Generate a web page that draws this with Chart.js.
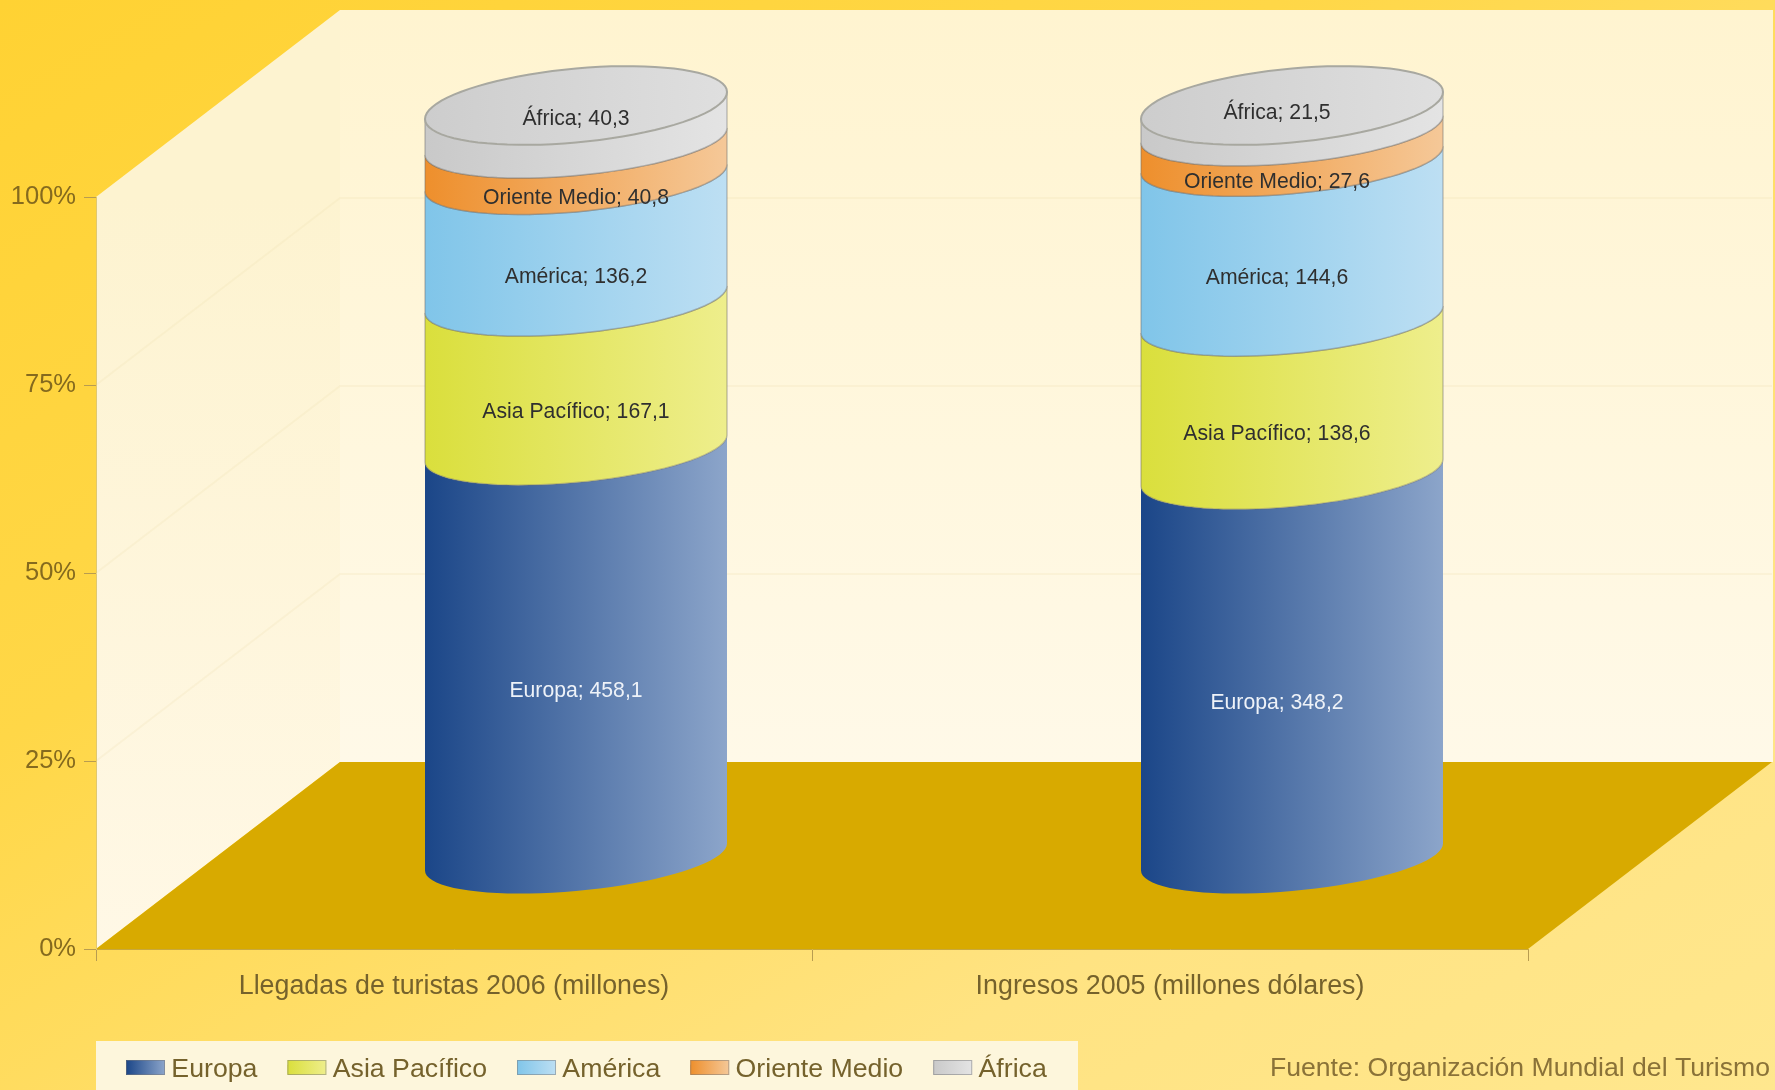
<!DOCTYPE html>
<html>
<head>
<meta charset="utf-8">
<title>Turismo</title>
<script src="https://cdn.jsdelivr.net/npm/chart.js@4/dist/chart.umd.min.js"></script>
<style>
  html, body { margin: 0; padding: 0; }
  body { width: 1775px; height: 1090px; overflow: hidden; background: linear-gradient(150deg, #ffd233 0%, #ffd747 35%, #ffe382 75%, #ffe78e 100%); }
  canvas { display: block; }
</style>
</head>
<body>
<canvas id="chart" width="1775" height="1090"></canvas>
<script>
const categories = ["Llegadas de turistas 2006 (millones)", "Ingresos 2005 (millones dólares)"];
const seriesNames = ["Europa", "Asia Pacífico", "América", "Oriente Medio", "África"];
const europa = [458.1, 348.2];
const asiaPacifico = [167.1, 138.6];
const america = [136.2, 144.6];
const orienteMedio = [40.8, 27.6];
const africa = [40.3, 21.5];
const seriesValues = [europa, asiaPacifico, america, orienteMedio, africa];
const legendColors = ["#2f5a9a", "#dfe24f", "#92cdec", "#f0a050", "#d0d0d0"];

const totals = categories.map((c, i) => seriesValues.reduce((sum, s) => sum + s[i], 0));

// left and right colour of each cylinder band
const bandColors = [
    ["#1b4688", "#8ca5ca"],
    ["#dadf3c", "#eeee8c"],
    ["#80c5e9", "#bddff3"],
    ["#ee8f2c", "#f5c898"],
    ["#c9c9c9", "#e4e4e4"]
];

const fontFamily = "'Liberation Sans', Arial, sans-serif";
const depthX = 244, depthY = -187;
const cylinderDrop = 2;
const radiusX = 151, tiltY = 13.5, radiusY = 34, capRadiusY = 37;
const labelShift = [0, -15];

function frontCurve(ctx, cx, cy, reverse) {
    for (let k = 0; k <= 40; k++) {
        const t = reverse ? Math.PI * k / 40 : Math.PI - Math.PI * k / 40;
        ctx.lineTo(cx + radiusX * Math.cos(t), cy - tiltY * Math.cos(t) + radiusY * Math.sin(t));
    }
}

function horizontalGradient(ctx, x0, x1, colors) {
    const g = ctx.createLinearGradient(x0, 0, x1, 0);
    g.addColorStop(0, colors[0]);
    g.addColorStop(1, colors[1]);
    return g;
}

const scenePlugin = {
    id: "scene",
    afterLayout(chart) {
        const legend = chart.legend;
        legend.left = 96;
        legend.right = 1078;
        legend.top = 1026;
        legend.bottom = 1090;
        legend.adjustHitBoxes();
    },
    beforeDraw(chart) {
        const ctx = chart.ctx;
        const a = chart.chartArea;
        const y = chart.scales.y;
        ctx.save();

        // left wall
        let g = ctx.createLinearGradient(0, a.top, 0, a.bottom);
        g.addColorStop(0, "#fdf3d0");
        g.addColorStop(1, "#fff8e6");
        ctx.fillStyle = g;
        ctx.beginPath();
        ctx.moveTo(a.left, a.top);
        ctx.lineTo(a.left + depthX, a.top + depthY);
        ctx.lineTo(a.left + depthX, a.bottom + depthY);
        ctx.lineTo(a.left, a.bottom);
        ctx.closePath();
        ctx.fill();

        // back wall
        g = ctx.createLinearGradient(0, a.top + depthY, 0, a.bottom + depthY);
        g.addColorStop(0, "#fff4d0");
        g.addColorStop(1, "#fff9e8");
        ctx.fillStyle = g;
        ctx.fillRect(a.left + depthX, a.top + depthY, a.right - a.left + 1, a.bottom - a.top);

        // floor
        ctx.fillStyle = "#d8aa00";
        ctx.beginPath();
        ctx.moveTo(a.left, a.bottom);
        ctx.lineTo(a.left + depthX, a.bottom + depthY);
        ctx.lineTo(a.right + depthX, a.bottom + depthY);
        ctx.lineTo(a.right, a.bottom);
        ctx.closePath();
        ctx.fill();

        // faint grid on the walls
        ctx.strokeStyle = "rgba(235,220,170,0.2)";
        ctx.lineWidth = 2;
        y.ticks.forEach(t => {
            if (t.value === 0 || t.value === 100) return;
            const py = y.getPixelForValue(t.value);
            ctx.beginPath();
            ctx.moveTo(a.left, py);
            ctx.lineTo(a.left + depthX, py + depthY);
            ctx.lineTo(a.right + depthX, py + depthY);
            ctx.stroke();
        });

        // legend panel
        ctx.fillStyle = "#fdf6dc";
        ctx.fillRect(96, 1041, 982, 49);
        ctx.restore();
    },
    beforeDatasetDraw() {
        return false; // cylinders are painted below from the bar elements
    },
    afterDatasetsDraw(chart) {
        const ctx = chart.ctx;
        ctx.save();
        const metas = seriesNames.map((n, i) => chart.getDatasetMeta(i));

        categories.forEach((c, i) => {
            metas.forEach((meta, s) => {
                const bar = meta.data[i];
                const cx = bar.x + depthX / 2;
                const yTop = bar.y + depthY / 2 + cylinderDrop;
                const yBase = bar.base + depthY / 2 + cylinderDrop;
                ctx.beginPath();
                frontCurve(ctx, cx, yBase, false);
                frontCurve(ctx, cx, yTop, true);
                ctx.closePath();
                ctx.fillStyle = horizontalGradient(ctx, cx - radiusX, cx + radiusX, bandColors[s]);
                ctx.fill();
                if (s > 0) {
                    ctx.strokeStyle = "rgba(110,110,110,0.4)";
                    ctx.lineWidth = 1.5;
                    ctx.stroke();
                }
            });

            // top cap
            const top = metas[metas.length - 1].data[i];
            const cx = top.x + depthX / 2;
            const cy = top.y + depthY / 2 + cylinderDrop;
            ctx.beginPath();
            for (let k = 0; k <= 80; k++) {
                const t = 2 * Math.PI * k / 80;
                ctx.lineTo(cx + radiusX * Math.cos(t), cy - tiltY * Math.cos(t) + capRadiusY * Math.sin(t));
            }
            ctx.closePath();
            ctx.fillStyle = horizontalGradient(ctx, cx - radiusX, cx + radiusX, ["#cdcdcd", "#dfdfdf"]);
            ctx.fill();
            ctx.strokeStyle = "#a8a8a0";
            ctx.lineWidth = 2;
            ctx.stroke();
        });

        // value labels
        ctx.font = "21.2px " + fontFamily;
        ctx.textAlign = "center";
        ctx.textBaseline = "middle";
        metas.forEach((meta, s) => {
            meta.data.forEach((bar, i) => {
                const lx = bar.x + depthX / 2 + labelShift[i];
                const dy = s === metas.length - 1 ? -2 : 40;
                const ly = (bar.y + bar.base) / 2 + depthY / 2 + dy;
                ctx.fillStyle = s === 0 ? "#eef2f8" : "#2f2f2f";
                ctx.fillText(seriesNames[s] + "; " + String(seriesValues[s][i]).replace(".", ","), lx, ly);
            });
        });

        ctx.restore();
    },
    afterDraw(chart) {
        const ctx = chart.ctx;
        ctx.save();

        // gradient swatches over the legend boxes
        chart.legend.legendHitBoxes.forEach((box, s) => {
            ctx.fillStyle = horizontalGradient(ctx, box.left, box.left + 39, bandColors[s]);
            ctx.fillRect(box.left, 1060, 39, 15);
            ctx.strokeStyle = "rgba(120,120,120,0.5)";
            ctx.lineWidth = 1;
            ctx.strokeRect(box.left + 0.5, 1060.5, 38, 14);
        });

        // source note
        ctx.font = "26.6px " + fontFamily;
        ctx.fillStyle = "#8a7238";
        ctx.textAlign = "right";
        ctx.textBaseline = "middle";
        ctx.fillText("Fuente: Organización Mundial del Turismo", 1770, 1069);
        ctx.restore();
    }
};

new Chart(document.getElementById("chart"), {
    type: "bar",
    data: {
        labels: categories,
        datasets: seriesNames.map((name, s) => ({
            label: name,
            data: seriesValues[s].map((v, i) => v / totals[i] * 100),
            backgroundColor: legendColors[s]
        }))
    },
    options: {
        responsive: false,
        animation: false,
        layout: { padding: { top: 197, right: 247, left: 0, bottom: 0 } },
        datasets: { bar: { categoryPercentage: 1, barPercentage: 0.4218 } },
        plugins: {
            tooltip: { enabled: false },
            legend: {
                position: "bottom",
                align: "start",
                labels: {
                    boxWidth: 32,
                    boxHeight: 9,
                    padding: 30,
                    color: "#75622c",
                    font: { family: fontFamily, size: 26.7 }
                }
            }
        },
        scales: {
            x: {
                stacked: true,
                afterFit(scale) { scale.height = 141 - scale.chart.legend.height; },
                border: { color: "#c8a83c" },
                grid: { offset: true, drawOnChartArea: false, tickLength: 12, tickColor: "#b89c50" },
                ticks: {
                    color: "#75622c",
                    padding: 10,
                    maxRotation: 0,
                    font: { family: fontFamily, size: 26.8 }
                }
            },
            y: {
                stacked: true,
                min: 0,
                max: 100,
                afterFit(scale) { scale.width = 96; },
                border: { color: "#e0c870" },
                grid: { drawOnChartArea: false, tickLength: 12, tickColor: "#b89c50" },
                ticks: {
                    stepSize: 25,
                    color: "#856a1e",
                    padding: 8,
                    callback: v => v + "%",
                    font: { family: fontFamily, size: 25.5 }
                }
            }
        }
    },
    plugins: [scenePlugin]
});
</script>
</body>
</html>
